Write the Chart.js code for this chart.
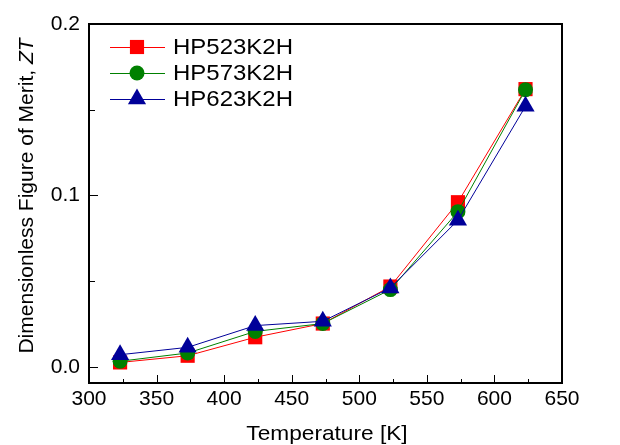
<!DOCTYPE html>
<html>
<head>
<meta charset="utf-8">
<script src="https://cdn.jsdelivr.net/npm/chart.js@4"></script>
<style>
  html, body { margin: 0; padding: 0; background: #fff; }
  #wrap { width: 620px; height: 445px; }
</style>
</head>
<body>
<div id="wrap"><canvas id="zt" width="620" height="445"></canvas></div>
<script>
// temperatures [K]
const temps = [323, 373, 423, 473, 523, 573, 623];

// ZT values
const hp523 = [0.0025, 0.0064, 0.0172, 0.0252, 0.0468, 0.0960, 0.1620];
const hp573 = [0.0032, 0.0080, 0.0206, 0.0252, 0.0450, 0.0905, 0.1616];
const hp623 = [0.0070, 0.0113, 0.0240, 0.0265, 0.0460, 0.0855, 0.1520];

const seriesNames = ['HP523K2H', 'HP573K2H', 'HP623K2H'];
const xTickLabels = [300, 350, 400, 450, 500, 550, 600, 650];
const yTickLabels = [0.0, 0.1, 0.2];

const FONT = 'Arial, "Liberation Sans", sans-serif';

const toPts = vals => vals.map((v, i) => ({ x: temps[i], y: v }));

const datasets = [
  { label: seriesNames[0], data: toPts(hp523), color: '#ff0000', style: 'rect', radius: 10, order: 3 },
  { label: seriesNames[1], data: toPts(hp573), color: '#008000', style: 'circle', radius: 7.5, order: 2 },
  { label: seriesNames[2], data: toPts(hp623), color: '#000099', style: 'triangle', radius: 10.5, order: 1 }
].map(d => ({
  label: d.label,
  data: d.data,
  order: d.order,
  borderColor: d.color,
  backgroundColor: d.color,
  borderWidth: 1,
  pointStyle: d.style,
  pointRadius: d.radius,
  pointBorderWidth: 0,
  pointBackgroundColor: d.color,
  tension: 0
}));

// text drawn a bit wider, like the original figure
function wideText(ctx, txt, x, y, sx) {
  ctx.save();
  ctx.translate(x, y);
  ctx.scale(sx, 1);
  ctx.fillText(txt, 0, 0);
  ctx.restore();
}

// frame, inward ticks, legend and axis titles
const decor = {
  id: 'decor',
  afterDatasetsDraw(chart) {
    const { ctx, chartArea: a, scales } = chart;
    const xs = scales.x, ys = scales.y;
    ctx.save();

    // ticks pointing into the plot
    ctx.strokeStyle = '#000';
    ctx.lineWidth = 1;
    ctx.beginPath();
    for (let v = 300; v <= 650; v += 25) {
      const px = Math.round(xs.getPixelForValue(v)) + 0.5;
      const len = v % 50 === 0 ? 8 : 4;
      ctx.moveTo(px, a.bottom);
      ctx.lineTo(px, a.bottom - len);
    }
    for (let i = 0; i <= 4; i++) {
      const v = i * 0.05;
      const py = Math.round(ys.getPixelForValue(v)) + 0.5;
      const len = i % 2 === 0 ? 9 : 6;
      ctx.moveTo(a.left, py);
      ctx.lineTo(a.left + len, py);
    }
    ctx.stroke();

    // frame
    ctx.lineWidth = 2;
    ctx.strokeRect(a.left, a.top, a.right - a.left, a.bottom - a.top);

    // legend
    const rows = [47, 73, 99];
    const helpers = Chart.helpers;
    chart.data.datasets.forEach((ds, i) => {
      const y = rows[i];
      ctx.strokeStyle = ds.borderColor;
      ctx.lineWidth = 1;
      ctx.beginPath();
      ctx.moveTo(110, y + 0.5);
      ctx.lineTo(165, y + 0.5);
      ctx.stroke();
      ctx.fillStyle = ds.backgroundColor;
      ctx.strokeStyle = ds.backgroundColor;
      helpers.drawPoint(ctx, { pointStyle: ds.pointStyle, radius: ds.pointRadius, borderWidth: 0 }, 137, y);
      ctx.fillStyle = '#000';
      ctx.font = '22px ' + FONT;
      ctx.textAlign = 'left';
      ctx.textBaseline = 'middle';
      wideText(ctx, ds.label, 173, y + 1, 1.09);
    });

    // x title
    ctx.fillStyle = '#000';
    ctx.font = '21px ' + FONT;
    ctx.textAlign = 'center';
    ctx.textBaseline = 'alphabetic';
    wideText(ctx, 'Temperature [K]', 327, 440, 1.08);

    // y title with italic ZT
    const plain = 'Dimensionless Figure of Merit, ';
    const ital = 'ZT';
    ctx.font = '21px ' + FONT;
    const w1 = ctx.measureText(plain).width;
    ctx.font = 'italic 21px ' + FONT;
    const w2 = ctx.measureText(ital).width;
    ctx.translate(33, 196);
    ctx.rotate(-Math.PI / 2);
    ctx.textAlign = 'left';
    let sx = -(w1 + w2) / 2;
    ctx.font = '21px ' + FONT;
    ctx.fillText(plain, sx, 0);
    ctx.font = 'italic 21px ' + FONT;
    ctx.fillText(ital, sx + w1, 0);

    ctx.restore();
  }
};

new Chart(document.getElementById('zt'), {
  type: 'line',
  data: { datasets },
  options: {
    responsive: false,
    animation: false,
    layout: { padding: { top: 24, right: 58, left: 0, bottom: 0 } },
    plugins: { legend: { display: false }, tooltip: { enabled: false } },
    scales: {
      x: {
        type: 'linear',
        min: 300,
        max: 650,
        grid: { display: false, drawTicks: false },
        border: { display: false },
        afterFit: s => { s.height = 62; },
        afterBuildTicks: s => { s.ticks = xTickLabels.map(v => ({ value: v })); },
        ticks: { color: '#000', padding: 4, font: { family: FONT, size: 21 }, maxRotation: 0, autoSkip: false }
      },
      y: {
        min: -0.0095,
        max: 0.2,
        grid: { display: false, drawTicks: false },
        border: { display: false },
        afterFit: s => { s.width = 89; },
        afterBuildTicks: s => { s.ticks = yTickLabels.map(v => ({ value: v })); },
        ticks: {
          color: '#000', padding: 9, font: { family: FONT, size: 21 }, autoSkip: false,
          callback: v => Number(v).toFixed(1)
        }
      }
    }
  },
  plugins: [decor]
});
</script>
</body>
</html>
